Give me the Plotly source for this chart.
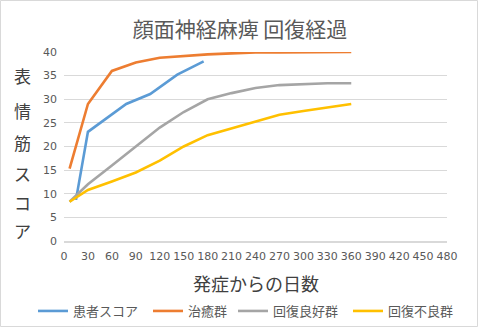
import plotly.graph_objects as go

title = "顔面神経麻痺 回復経過"
x_title = "発症からの日数"
y_title_chars = ["表", "情", "筋", "ス", "コ", "ア"]

patient_days = [15, 30, 78, 108, 142, 175]
patient_score = [8.7, 23.1, 29.0, 31.1, 35.2, 38.0]

group_days = [7, 30, 60, 90, 120, 150, 180, 210, 240, 270, 300, 330, 360]
cured = [15.3, 29.0, 36.0, 37.8, 38.8, 39.2, 39.5, 39.7, 39.9, 39.9, 39.9, 40.0, 40.0]
good = [8.3, 12.0, 16.0, 20.0, 24.0, 27.3, 30.0, 31.3, 32.4, 33.0, 33.2, 33.4, 33.4]
poor = [8.3, 10.8, 12.6, 14.5, 17.0, 20.0, 22.4, 23.8, 25.2, 26.7, 27.5, 28.2, 29.0]

names = ["患者スコア", "治癒群", "回復良好群", "回復不良群"]
colors = ["#5B9BD5", "#ED7D31", "#A5A5A5", "#FFC000"]

jp = "Noto Sans CJK JP"
num = "DejaVu Sans"

W, H = 480, 328
ml, mr, mt, mb = 64, 33, 52, 87
pw, ph = W - ml - mr, H - mt - mb

legend_ids = ["legend", "legend2", "legend3", "legend4"]
legend_x_px = [33, 148, 233, 348]

fig = go.Figure()
series = [(patient_days, patient_score), (group_days, cured), (group_days, good), (group_days, poor)]
for (xs, ys), n, c, lg in zip(series, names, colors, legend_ids):
    fig.add_trace(go.Scatter(x=xs, y=ys, name=n, mode="lines", legend=lg,
                             line=dict(color=c, width=2.6)))

layout_legends = {}
for lg, xp in zip(legend_ids, legend_x_px):
    layout_legends[lg] = dict(orientation="h", xref="container", x=xp / W, xanchor="left",
                              yref="container", y=1 - 311 / H, yanchor="middle",
                              font=dict(family=jp, size=13, color="#595959"),
                              itemwidth=30, bgcolor="rgba(0,0,0,0)")

fig.update_layout(
    width=W, height=H,
    margin=dict(l=ml, r=mr, t=mt, b=mb, autoexpand=False),
    paper_bgcolor="white", plot_bgcolor="white",
    title=dict(text=title, x=0.5, xanchor="center", y=1 - 30 / H, yanchor="middle",
               font=dict(family=jp, size=21, color="#595959")),
    xaxis=dict(range=[0, 480], dtick=30, tick0=0, showgrid=False, zeroline=False,
               showline=True, linecolor="#D9D9D9", linewidth=2, automargin=False,
               ticks="", ticklabelstandoff=4, tickfont=dict(family=num, size=11, color="#595959")),
    yaxis=dict(range=[0, 40], dtick=5, showgrid=True, gridcolor="#D9D9D9", gridwidth=1,
               zeroline=False, showline=False, ticks="", ticklabelstandoff=6, automargin=False,
               tickfont=dict(family=num, size=11, color="#595959")),
    showlegend=True,
    **layout_legends,
)

fig.add_annotation(text=x_title, xref="paper", yref="paper", x=0.5, y=-(283 - (H - mb)) / ph,
                   xanchor="center", yanchor="middle", showarrow=False,
                   font=dict(family=jp, size=18, color="#404040"))

ys_px = [75, 110, 142, 173, 202, 230]
for ch, yp in zip(y_title_chars, ys_px):
    fig.add_annotation(text=ch, xref="paper", yref="paper",
                       x=-(ml - 22) / pw, y=(H - mb - yp) / ph,
                       xanchor="center", yanchor="middle", showarrow=False,
                       font=dict(family=jp, size=17, color="#404040"))

fig.add_shape(type="rect", xref="paper", yref="paper",
              x0=-(ml - 0.5) / pw, x1=1 + (mr - 2.5) / pw,
              y0=-(mb - 1.5) / ph, y1=1 + (mt - 0.5) / ph,
              line=dict(color="#D9D9D9", width=1), layer="below")

fig.write_html("out.html")
